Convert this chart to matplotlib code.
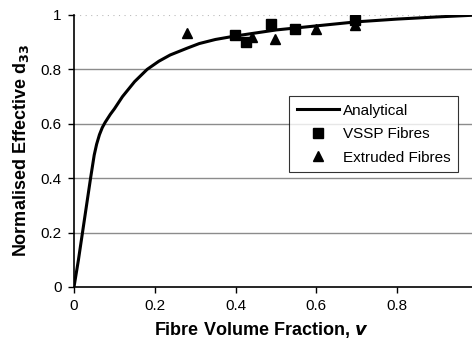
import matplotlib.pyplot as plt

plt.rcParams['font.family'] = ['Liberation Sans', 'DejaVu Sans']

# analytical curve
curve_v = [0.0, 0.011, 0.021, 0.031, 0.041, 0.050, 0.056, 0.063, 0.070, 0.077, 0.09, 0.10,
           0.12, 0.15, 0.181, 0.21, 0.238, 0.28, 0.31, 0.35, 0.40, 0.50, 0.60, 0.70, 0.80,
           0.90, 1.0]
curve_d = [0.0, 0.10, 0.20, 0.30, 0.40, 0.485, 0.525, 0.56, 0.586, 0.605, 0.635, 0.655,
           0.70, 0.755, 0.80, 0.83, 0.853, 0.878, 0.895, 0.91, 0.923, 0.945, 0.96, 0.975, 0.985,
           0.993, 1.0]

vssp_v = [0.398, 0.426, 0.488, 0.547, 0.696]
vssp_d = [0.926, 0.90, 0.967, 0.949, 0.98]

extr_v = [0.28, 0.44, 0.498, 0.60, 0.696]
extr_d = [0.934, 0.919, 0.91, 0.949, 0.963]

x_ticks = [0, 0.2, 0.4, 0.6, 0.8]
x_labels = ['0', '0.2', '0.4', '0.6', '0.8']
y_ticks = [0, 0.2, 0.4, 0.6, 0.8, 1.0]
y_labels = ['0', '0.2', '0.4', '0.6', '0.8', '1']


def main():
    fig = plt.figure(figsize=(4.72, 3.39), dpi=100)
    ax = fig.add_axes([74 / 472, 1 - 287 / 339, 398 / 472, 272 / 339])

    for y in y_ticks[1:-1]:
        ax.axhline(y, color='#8c8c8c', lw=1.0, zorder=1)
    ax.axhline(1.0, color='#bbbbbb', lw=0.8, ls=(0, (1, 4)), zorder=1)

    ax.plot(curve_v, curve_d, color='black', lw=2.2, label='Analytical', zorder=3)
    ax.plot(vssp_v, vssp_d, ls='none', marker='s', ms=6.8, color='black',
            label='VSSP Fibres', zorder=4)
    ax.plot(extr_v, extr_d, ls='none', marker='^', ms=7.3, color='black',
            label='Extruded Fibres', zorder=4)

    ax.set_xticks(x_ticks)
    ax.set_xticklabels(x_labels)
    ax.set_yticks(y_ticks)
    ax.set_yticklabels(y_labels)
    # limits after ticks, the axis runs off the right edge like the scan
    ax.set_xlim(0, 398 / 404)
    ax.set_ylim(0, 1)
    ax.tick_params(direction='out', length=4, width=1, labelsize=11, pad=5)

    for side in ['top', 'right']:
        ax.spines[side].set_visible(False)
    for side in ['left', 'bottom']:
        ax.spines[side].set_linewidth(1.2)

    xl = ax.set_xlabel(r'Fibre Volume Fraction, $\boldsymbol{v}$', fontsize=13,
                       fontweight='bold')
    xl.set_verticalalignment('baseline')
    ax.xaxis.set_label_coords(0.471, -0.178)
    ax.set_ylabel(r'Normalised Effective d$_{\mathbf{33}}$', fontsize=13,
                  fontweight='bold', labelpad=7)

    leg = ax.legend(loc='upper left', bbox_to_anchor=(0.54, 0.702), fontsize=11,
                    frameon=True, fancybox=False, edgecolor='black',
                    handlelength=2.75, handletextpad=0.3, borderpad=0.5,
                    labelspacing=0.62, borderaxespad=0)
    leg.get_frame().set_linewidth(0.8)

    fig.savefig('out.png', dpi=100)


if __name__ == '__main__':
    main()
